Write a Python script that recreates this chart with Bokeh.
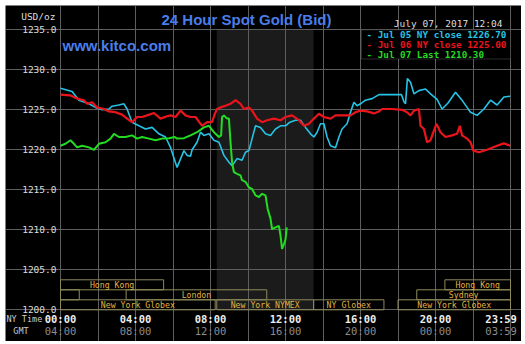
from bokeh.plotting import figure
from bokeh.models import Range1d, FixedTicker, LinearAxis, PrintfTickFormatter, Label, BoxAnnotation
from bokeh.core.properties import value
from bokeh.embed import file_html
from bokeh.resources import INLINE

# ---------------- data (minutes after 00:00 NY time, USD/oz) ----------------
jul05_min = [0, 37, 59, 91, 112, 133, 155, 165, 187, 203, 213, 229, 251, 272, 293, 315, 336, 352,
             373, 395, 405, 416, 421, 437, 448, 459, 475, 491, 507, 523, 539, 549, 565, 581, 592,
             603, 613, 624, 640, 656, 672, 688, 704, 720, 734, 752, 768, 784, 800, 811, 821, 832,
             843, 853, 864, 880, 891, 901, 917, 928, 939, 949, 960, 976, 997, 1019, 1040, 1072,
             1091, 1099, 1104, 1110, 1120, 1131, 1147, 1168, 1184, 1205, 1221, 1240, 1264, 1283,
             1301, 1312, 1333, 1355, 1376, 1397, 1419, 1439]
jul05_val = [1227.7, 1227.3, 1226.2, 1225.75, 1225.3, 1225.0, 1225.1, 1225.45, 1225.6, 1225.75,
             1225.1, 1223.45, 1223.0, 1222.6, 1222.8, 1222.0, 1221.6, 1220.3, 1217.8, 1219.9,
             1219.3, 1219.2, 1220.0, 1220.95, 1222.2, 1221.8, 1222.0, 1221.2, 1220.95, 1219.3,
             1218.45, 1218.0, 1218.9, 1218.7, 1219.7, 1219.9, 1221.4, 1223.0, 1222.8, 1222.0,
             1221.8, 1222.6, 1223.0, 1223.0, 1223.45, 1223.7, 1223.7, 1222.8, 1222.0, 1221.6,
             1222.2, 1223.25, 1223.25, 1221.6, 1220.5, 1220.25, 1221.6, 1222.6, 1223.25, 1224.7,
             1225.95, 1225.5, 1225.75, 1226.2, 1226.4, 1226.9, 1226.9, 1226.9, 1226.9, 1226.0,
             1225.75, 1228.9, 1228.45, 1227.0, 1227.4, 1227.6, 1227.0, 1226.3, 1225.1, 1225.85,
             1227.2, 1226.3, 1225.3, 1224.7, 1224.3, 1225.1, 1226.2, 1225.6, 1226.6, 1226.7]

jul06_min = [0, 32, 53, 75, 85, 101, 117, 139, 155, 176, 197, 213, 229, 245, 261, 277, 299, 320,
             341, 352, 368, 384, 400, 416, 432, 453, 469, 485, 493, 501, 512, 528, 544, 560, 576,
             587, 603, 613, 629, 645, 661, 683, 704, 720, 741, 763, 779, 795, 811, 827, 843, 864,
             880, 901, 928, 944, 960, 981, 1003, 1019, 1029, 1061, 1093, 1109, 1120, 1131, 1147,
             1152, 1163, 1173, 1184, 1195, 1203, 1216, 1232, 1253, 1269, 1278, 1285, 1301, 1312,
             1321, 1339, 1365, 1397, 1419, 1439]
jul06_val = [1226.9, 1226.8, 1226.4, 1226.2, 1225.75, 1225.95, 1225.3, 1225.1, 1224.8, 1224.7,
             1224.4, 1223.9, 1223.45, 1224.1, 1224.1, 1224.3, 1224.6, 1223.9, 1224.2, 1224.3,
             1224.1, 1224.9, 1224.3, 1224.1, 1224.1, 1223.0, 1223.45, 1223.45, 1224.4, 1225.1,
             1225.3, 1225.5, 1225.75, 1226.2, 1225.75, 1225.1, 1225.3, 1224.9, 1223.9, 1223.45,
             1223.7, 1223.9, 1223.7, 1224.1, 1224.3, 1223.7, 1223.0, 1223.25, 1223.9, 1224.5,
             1224.1, 1223.9, 1224.3, 1224.3, 1224.3, 1224.7, 1224.9, 1224.8, 1224.55, 1224.8,
             1225.1, 1225.1, 1225.0, 1224.7, 1224.3, 1224.9, 1225.1, 1223.0, 1222.6, 1220.95,
             1221.2, 1222.4, 1223.25, 1222.2, 1221.6, 1221.8, 1222.0, 1223.0, 1221.8, 1221.4,
             1220.95, 1219.9, 1219.7, 1220.0, 1220.5, 1220.8, 1220.5]

jul07_min = [0, 16, 32, 43, 53, 69, 91, 107, 123, 144, 160, 171, 187, 208, 229, 245, 261, 283,
             304, 325, 347, 366, 373, 395, 416, 437, 459, 475, 491, 507, 514, 517, 523, 533, 539,
             544, 549, 555, 565, 576, 581, 592, 603, 613, 624, 635, 645, 656, 663, 672, 677, 688,
             699, 704, 709, 716, 720, 724]
jul07_val = [1220.5, 1220.75, 1221.2, 1220.75, 1220.3, 1220.5, 1220.3, 1220.0, 1220.75, 1220.95,
             1221.4, 1222.0, 1221.6, 1221.6, 1221.8, 1221.4, 1221.6, 1221.4, 1221.2, 1221.4,
             1221.45, 1221.6, 1221.4, 1221.45, 1221.8, 1222.2, 1222.8, 1223.0, 1222.2, 1221.6,
             1221.8, 1224.1, 1224.3, 1223.9, 1223.9, 1220.95, 1218.45, 1217.2, 1217.0, 1216.8,
             1216.2, 1216.0, 1215.3, 1215.1, 1214.3, 1214.1, 1214.5, 1214.3, 1212.6, 1211.4,
             1210.1, 1210.3, 1210.5, 1209.3, 1207.6, 1208.3, 1208.8, 1210.3]

series_names = ["Jul 05 NY close 1226.70", "Jul 06 NY close 1225.00", "Jul 07 Last 1210.30"]
series_colors = ["#25c3e6", "#ea141c", "#22dc22"]
series_widths = [1.6, 2.2, 2.0]

y_ticks = [1200, 1205, 1210, 1215, 1220, 1225, 1230, 1235]
x_tick_hours = [0, 4, 8, 12, 16, 20, 23 + 59 / 60]
ny_tick_labels = ["00:00", "04:00", "08:00", "12:00", "16:00", "20:00", "23:59"]
gmt_tick_labels = ["04:00", "08:00", "12:00", "16:00", "20:00", "00:00", "03:59"]

comex_open, comex_close = 8 + 20 / 60, 13.5

session_names = ["Hong Kong", "Hong Kong", "Sydney", "London", "Sydney",
                 "New York Globex", "New York NYMEX", "NY Globex", "New York Globex"]
session_start = [0, 20.5, 0, 3.5, 19, 0, 8 + 20 / 60, 13.5, 18]
session_end = [5.5, 24, 1, 11, 24, 8.25, 13.5, 17.25, 24]
session_row = [2, 2, 1, 1, 1, 0, 0, 0, 0]

title_text = "24 Hour Spot Gold (Bid)"
stamp_text = "July 07, 2017 12:04"

# ---------------- geometry (page pixels <-> data) ----------------
Y0, Y1 = 1200, 1235
X0, X1 = 0, 24
CH_L, CH_B = 60, 309.3          # page pixel of 00:00 / 1200.0
PX_PER_H, PX_PER_USD = 18.75, 8
CANVAS_L, CANVAS_T, CANVAS_R, CANVAS_B = 5, 5, 521, 341


def hx(px):  # page pixel -> hours
    return (px - CH_L) / PX_PER_H


def vy(py):  # page pixel -> USD
    return Y0 + (CH_B - py) / PX_PER_USD


p = figure(width=CANVAS_R - CANVAS_L, height=CANVAS_B - CANVAS_T, margin=(5, 4, 3, 5),
           x_range=Range1d(hx(CANVAS_L), hx(CANVAS_R)), y_range=Range1d(vy(CANVAS_B), vy(CANVAS_T)),
           output_backend="svg", toolbar_location=None,
           min_border_left=0, min_border_right=0, min_border_top=0, min_border_bottom=0)
p.title.visible = False
p.background_fill_color = "black"
p.border_fill_color = "black"
p.outline_line_color = None

GRID = "#5e5e5e"
p.ygrid.ticker = FixedTicker(ticks=y_ticks)
p.ygrid.bounds = (X0, X1)
p.ygrid.grid_line_color = GRID
p.xgrid.ticker = FixedTicker(ticks=list(range(X0, X1 + 1, 2)))
p.xgrid.bounds = (Y0, Y1)
p.xgrid.grid_line_color = GRID

# y axis, pinned to 00:00
p.yaxis.ticker = FixedTicker(ticks=y_ticks)
p.yaxis.formatter = PrintfTickFormatter(format="%.1f")
for ax in p.yaxis:
    ax.fixed_location = X0
    ax.axis_line_color = None
    ax.major_tick_line_color = None
    ax.minor_tick_line_color = None
    ax.major_tick_out = 0
    ax.major_tick_in = 0
    ax.major_label_standoff = 4
    ax.major_label_text_font = "DejaVu Sans Mono"
    ax.major_label_text_font_size = "9.5px"
    ax.major_label_text_color = "#dddddd"

# x axes (NY time and GMT), pinned to 1200
label_pos = [min(h, 23.5) for h in x_tick_hours]


def style_x(ax, labels, color, bold, standoff):
    ax.fixed_location = Y0
    ax.ticker = FixedTicker(ticks=label_pos)
    ax.major_label_overrides = {k: v for k, v in zip(label_pos, labels)}
    ax.axis_line_color = None
    ax.major_tick_line_color = None
    ax.minor_tick_line_color = None
    ax.major_tick_out = 0
    ax.major_tick_in = 0
    ax.major_label_standoff = standoff
    ax.major_label_text_font = "DejaVu Sans Mono"
    ax.major_label_text_font_size = "10.5px"
    ax.major_label_text_font_style = "bold" if bold else "normal"
    ax.major_label_text_color = color


style_x(p.xaxis[0], ny_tick_labels, "#eeeeee", True, 3)
gmt_axis = LinearAxis()
style_x(gmt_axis, gmt_tick_labels, "#8c8c8c", False, 15)
p.add_layout(gmt_axis, "below")

# COMEX shading
p.quad(left=[comex_open], right=[comex_close], bottom=[Y0], top=[Y1],
       fill_color="#1b1b1b", line_color=None, level="image")

# price lines
for mins, vals, c, w in zip([jul05_min, jul06_min, jul07_min],
                            [jul05_val, jul06_val, jul07_val], series_colors, series_widths):
    p.line([m / 60 for m in mins], vals, line_color=c, line_width=w)

# trading session boxes
ROW_H = 1.25
sb = [Y0 + r * ROW_H for r in session_row]
st = [b + ROW_H for b in sb]
p.quad(left=session_start, right=session_end, bottom=sb, top=st,
       fill_color=None, line_color="#8e8a5c", line_width=1)
lab = [n if (e - s) >= 2 else "" for n, s, e in zip(session_names, session_start, session_end)]
p.text(x=[(s + e) / 2 for s, e in zip(session_start, session_end)],
       y=[b + ROW_H / 2 for b in sb], text=lab,
       text_font=value("DejaVu Sans Mono"), text_font_size="8.2px",
       text_color="#e3b341", text_align="center", text_baseline="middle")


# ---------------- annotations ----------------
def add_label(text, px, py, color, size, font, align="left", style="normal"):
    p.add_layout(Label(x=hx(px), y=vy(py), text=text, text_color=color,
                       text_font_size=size, text_font=font, text_font_style=style,
                       text_align=align, text_baseline="middle"))


add_label(title_text, 246, 19, "#4a7de8", "15px", "Liberation Sans", "center", "bold")
add_label("www.kitco.com", 62, 45, "#4a7de8", "15px", "Liberation Sans", "left", "bold")
add_label("USD/oz", 55, 16, "#dddddd", "9.5px", "DejaVu Sans Mono", "right")
add_label(stamp_text, 502, 23, "#dddddd", "9.5px", "DejaVu Sans Mono", "right")
add_label("NY Time", 6, 318, "#cccccc", "8.5px", "DejaVu Sans Mono", "left")
add_label("GMT", 20.5, 330, "#cccccc", "8.5px", "DejaVu Sans Mono", "center")

# legend box
p.add_layout(BoxAnnotation(left=hx(361), right=X1, top=Y1, bottom=vy(58.5),
                           fill_color="black", fill_alpha=1.0,
                           line_color="#8a8a8a", line_width=1))
for i, (name, c) in enumerate(zip(series_names, series_colors)):
    add_label("- " + name, 366, 33.8 + i * 10.2, c, "9.3px", "DejaVu Sans Mono", "left", "bold")

open("out.html", "w").write(file_html(p, INLINE))
